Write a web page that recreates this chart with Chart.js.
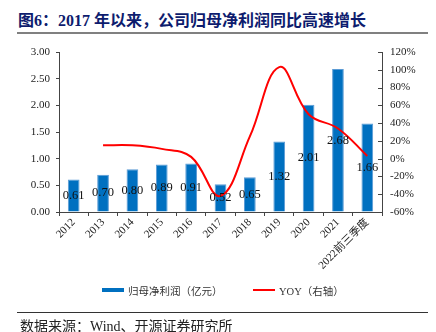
<!DOCTYPE html>
<html><head><meta charset="utf-8">
<script src="https://cdn.jsdelivr.net/npm/chart.js@4"></script>
<style>
html,body{margin:0;padding:0;background:#fff;}
#wrap{position:relative;width:436px;height:332px;overflow:hidden;}
#title{position:absolute;left:18px;top:7px;font:bold 16px "Liberation Serif","Noto Sans CJK SC",serif;color:#0d1c6e;white-space:nowrap;letter-spacing:0px;}
#tline{position:absolute;left:17px;top:32px;width:411px;height:2px;background:#808080;}
#bline{position:absolute;left:17px;top:312px;width:411px;height:1px;background:#333;}
#src{position:absolute;left:20px;top:315px;font:14px "Liberation Serif","Noto Sans CJK SC",serif;color:#222;white-space:nowrap;}
#legend{position:absolute;top:282px;left:0;width:436px;height:16px;font:10.5px "Liberation Serif","Noto Sans CJK SC",serif;color:#333;}
.li{position:absolute;top:0;display:flex;align-items:center;height:16px;white-space:nowrap;}
.sw{display:inline-block;width:22px;margin-right:4px;}
canvas{position:absolute;left:0;top:0;}
</style></head>
<body><div id="wrap">
<div id="title">图6：2017 年以来，公司归母净利润同比高速增长</div>
<div id="tline"></div>
<canvas id="c" width="436" height="332"></canvas>
<div id="legend">
 <div class="li" style="left:102px"><span class="sw" style="height:4px;background:#0070C0"></span><span id="lg0"></span></div>
 <div class="li" style="left:253px"><span class="sw" style="height:2px;background:#FF0000"></span><span id="lg1"></span></div>
</div>
<div id="bline"></div>
<div id="src">数据来源：Wind、开源证券研究所</div>
</div>
<script>
const categories = ['2012','2013','2014','2015','2016','2017','2018','2019','2020','2021','2022前三季度'];
const profit = [0.61,0.70,0.80,0.89,0.91,0.52,0.65,1.32,2.01,2.68,1.66];
const yoy = [null,15,15,11,2,-42,25,103,50,34,3];
const leftTicks = [0,0.5,1,1.5,2,2.5,3];
const rightTicks = [-60,-40,-20,0,20,40,60,80,100,120];
const seriesNames = ['归母净利润（亿元）','YOY（右轴）'];

document.getElementById('lg0').textContent = seriesNames[0];
document.getElementById('lg1').textContent = seriesNames[1];

const serif = '"Liberation Serif","Noto Sans CJK SC",serif';

const labelPlugin = {
  id:'barLabels',
  afterDatasetsDraw(chart){
    const ctx = chart.ctx;
    const meta = chart.getDatasetMeta(0);
    ctx.save();
    ctx.font = '12.5px ' + serif;
    ctx.fillStyle = '#111';
    ctx.textAlign = 'center';
    ctx.textBaseline = 'middle';
    meta.data.forEach((bar,i)=>{
      const y = (bar.y + bar.base)/2;
      ctx.fillText(profit[i].toFixed(2), bar.x, y);
    });
    ctx.restore();
  }
};
const rightTickPlugin = {
  id:'rightTicks',
  afterDraw(chart){
    const s = chart.scales.y1, ctx = chart.ctx;
    ctx.save();
    ctx.strokeStyle = '#444'; ctx.lineWidth = 1;
    rightTicks.forEach(v=>{
      const y = Math.round(s.getPixelForValue(v))+0.5;
      ctx.beginPath(); ctx.moveTo(s.left-4,y); ctx.lineTo(s.left,y); ctx.stroke();
    });
    ctx.restore();
  }
};

new Chart(document.getElementById('c'),{
  data:{
    labels:categories,
    datasets:[
      {type:'bar',label:seriesNames[0],data:profit,backgroundColor:'#0070C0',borderColor:'#5b9bd5',borderWidth:{left:1,right:1,top:1,bottom:0},barPercentage:0.42,categoryPercentage:0.95,yAxisID:'y',order:2},
      {type:'line',label:seriesNames[1],data:yoy,borderColor:'#FF0000',borderWidth:2,pointRadius:0,tension:0.4,fill:false,yAxisID:'y1',order:1,spanGaps:false}
    ]
  },
  options:{
    responsive:false,animation:false,
    layout:{padding:{left:0,right:0,top:52,bottom:60}},
    plugins:{legend:{display:false},tooltip:{enabled:false}},
    scales:{
      x:{
        offset:true,
        grid:{offset:true,drawOnChartArea:false,tickLength:4,color:'#444'},
        border:{color:'#444'},
        ticks:{minRotation:45,maxRotation:45,padding:0,color:'#222',font:{family:serif,size:11}},
        afterFit(s){s.height=60;}
      },
      y:{
        position:'left',min:0,max:3,
        afterBuildTicks(s){s.ticks=leftTicks.map(v=>({value:v}));},
        grid:{drawOnChartArea:false,tickLength:3,color:'#444'},
        border:{color:'#444'},
        ticks:{color:'#222',padding:6,font:{family:serif,size:11},callback:v=>Number(v).toFixed(2)},
        afterFit(s){s.width=59;}
      },
      y1:{
        position:'right',min:-60,max:120,
        afterBuildTicks(s){s.ticks=rightTicks.map(v=>({value:v}));},
        grid:{drawOnChartArea:false,drawTicks:false,tickLength:0},
        border:{color:'#444'},
        ticks:{color:'#222',padding:8,font:{family:serif,size:11},callback:v=>v+'%'},
        afterFit(s){s.width=54;}
      }
    }
  },
  plugins:[labelPlugin,rightTickPlugin]
});
</script>
</body></html>
